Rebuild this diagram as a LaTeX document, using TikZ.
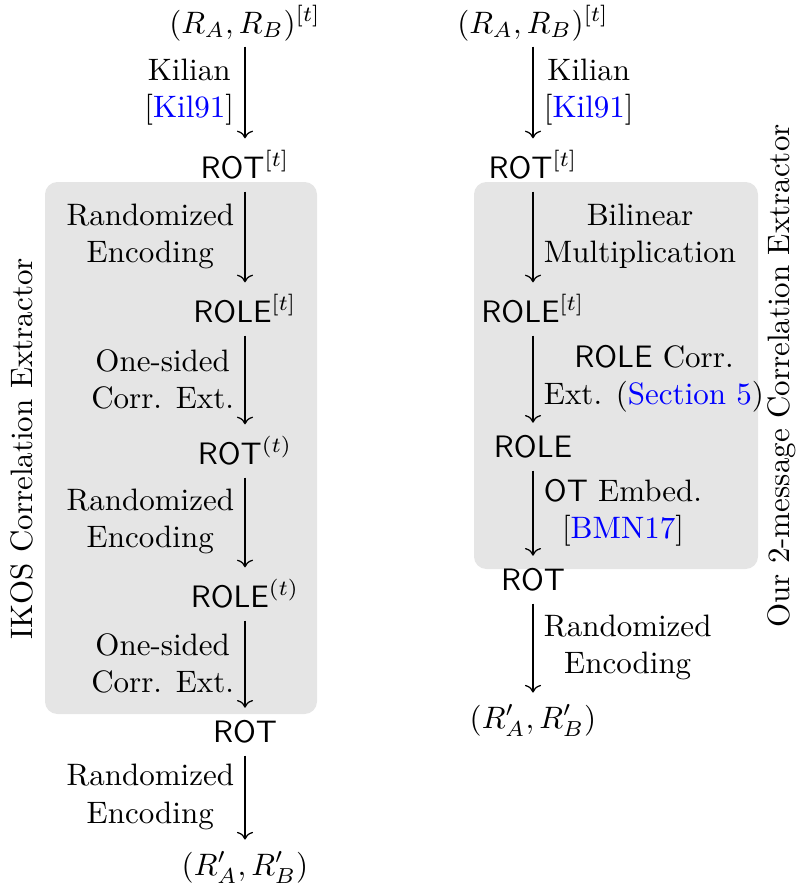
\documentclass[tikz,border=0pt]{standalone}
\usetikzlibrary{arrows.meta,fit}
\begin{document}
\begin{tikzpicture}[x=0.3225pt,y=-0.3225pt,
  obj/.style={anchor=base, inner xsep=0pt, inner ysep=0pt, text depth=0pt},
  arr/.style={->, line width=0.4pt, shorten <=4.2pt, shorten >=3.7pt},
  lblL/.style={anchor=east, align=center},
  lblR/.style={anchor=west, align=center},
  panel/.style={fill=black!10, rounded corners=4pt, inner sep=0pt, draw=none},
  side/.style={rotate=90, inner sep=0pt}]
\useasboundingbox (0,0) rectangle (800,890);
% panels
\coordinate (pl1) at (45,182); \coordinate (pl2) at (317,714);
\node[panel, fit=(pl1)(pl2)] (boxL) {};
\coordinate (pr1) at (474,182); \coordinate (pr2) at (758,569);
\node[panel, fit=(pr1)(pr2)] (boxR) {};
% left column
\node[obj] (L0) at (245,33) {$(R_A,R_B)^{[t]}$};
\node[obj] (L1) at (245,178) {\textsf{ROT}$^{[t]}$};
\node[obj] (L2) at (245,322) {\textsf{ROLE}$^{[t]}$};
\node[obj] (L3) at (245,464) {\textsf{ROT}$^{(t)}$};
\node[obj] (L4) at (245,607) {\textsf{ROLE}$^{(t)}$};
\node[obj] (L5) at (245,742) {\textsf{ROT}};
\node[obj] (L6) at (245,875) {$(R'_A,R'_B)$};
\draw[arr] (L0) -- node[lblL] {Kilian\\{[}\textcolor{blue}{Kil91}{]}} (L1);
\draw[arr] (L1) -- node[lblL] {Randomized\\Encoding} (L2);
\draw[arr] (L2) -- node[lblL] {One-sided\\Corr. Ext.} (L3);
\draw[arr] (L3) -- node[lblL] {Randomized\\Encoding} (L4);
\draw[arr] (L4) -- node[lblL] {One-sided\\Corr. Ext.} (L5);
\draw[arr] (L5) -- node[lblL] {Randomized\\Encoding} (L6);
% right column
\node[obj] (R0) at (533,33) {$(R_A,R_B)^{[t]}$};
\node[obj] (R1) at (533,178) {\textsf{ROT}$^{[t]}$};
\node[obj] (R2) at (533,322) {\textsf{ROLE}$^{[t]}$};
\node[obj] (R3) at (533,457) {\textsf{ROLE}};
\node[obj] (R4) at (533,590) {\textsf{ROT}};
\node[obj] (R5) at (533,728) {$(R'_A,R'_B)$};
\draw[arr] (R0) -- node[lblR] {Kilian\\{[}\textcolor{blue}{Kil91}{]}} (R1);
\draw[arr] (R1) -- node[lblR] {Bilinear\\Multiplication} (R2);
\draw[arr] (R2) -- node[lblR] {\textsf{ROLE} Corr.\\Ext. (\textcolor{blue}{Section 5})} (R3);
\draw[arr] (R3) -- node[lblR] {\textsf{OT} Embed.\\{[}\textcolor{blue}{BMN17}{]}} (R4);
\draw[arr] (R4) -- node[lblR] {Randomized\\Encoding} (R5);
% side labels
\node[side] (tagL) at (22,449) {IKOS Correlation Extractor};
\node[side] (tagR) at (782,376) {Our 2-message Correlation Extractor};
\end{tikzpicture}
\end{document}
